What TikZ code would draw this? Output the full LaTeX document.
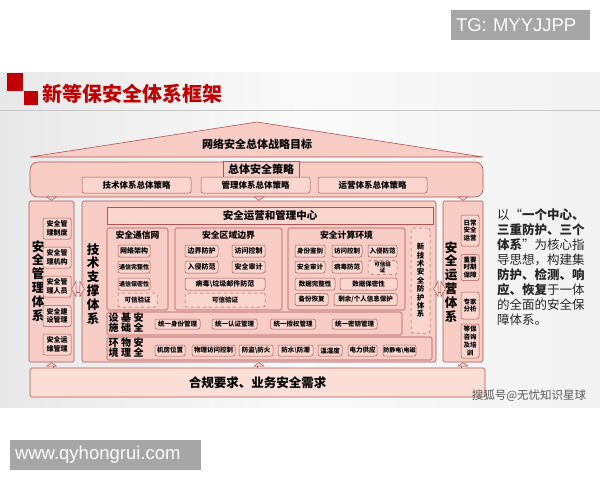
\documentclass[tikz,border=0pt]{standalone}
\usepackage{fontspec}
\setmainfont{Noto Sans CJK SC}
\newfontfamily\latinsans{Liberation Sans}
\usepackage{xcolor}
\usetikzlibrary{arrows.meta,positioning,shapes,calc}

\definecolor{boxfill}{RGB}{248,205,197}
\definecolor{itemfill}{RGB}{250,214,207}
\definecolor{basefill}{RGB}{251,222,214}
\definecolor{boxline}{RGB}{176,84,84}
\definecolor{titlered}{RGB}{192,0,0}
\definecolor{tagGray}{RGB}{166,166,166}

\begin{document}
\begin{tikzpicture}[x=1pt, y=-1pt,
    wh/.style 2 args={minimum width=#1pt, minimum height=#2pt},
    panel/.style={rectangle, rounded corners=1.5pt, draw=boxline, fill=boxfill, line width=0.6pt, inner sep=0pt},
    item/.style={rectangle, rounded corners=2pt, draw=boxline, fill=itemfill, line width=0.5pt, inner sep=0pt, align=center, font=\fontsize{7}{8.5}\selectfont\bfseries},
    ditem/.style={item, dashed},
    small/.style={font=\fontsize{6.5}{7.8}\selectfont\bfseries},
    tiny/.style={font=\fontsize{6}{7}\selectfont\bfseries},
    dtitle/.style={inner sep=0pt, font=\fontsize{8.8}{8.8}\selectfont\bfseries},
    vlabel/.style={inner sep=0pt, align=center, font=\fontsize{12.5}{13.9}\selectfont\bfseries},
    rowlabel/.style={inner sep=0pt, align=center, font=\fontsize{10}{10.2}\selectfont\bfseries},
    tag/.style={rectangle, fill=tagGray, text=white, inner xsep=5pt, inner ysep=0pt, align=left, minimum height=30pt, font=\latinsans\fontsize{18.5}{18.5}\selectfont},
    link/.style={draw=boxline, line width=0.5pt, double=itemfill, double distance=3pt, -{Triangle[length=4pt, width=11pt, fill=itemfill]}},
    dlink/.style={draw=boxline, line width=0.5pt, double=itemfill, double distance=6pt, {Triangle[length=5pt, width=17pt, fill=itemfill]}-{Triangle[length=5pt, width=17pt, fill=itemfill]}, shorten <=-3pt, shorten >=-3pt}
]
    \useasboundingbox (0,0) rectangle (600,480);

    % Slide background
    \shade[left color=black!9, right color=black!5, middle color=black!2] (0,72) rectangle (600,407);
    \draw[black!22, line width=0.8pt] (0,110) -- (600,110);

    % Tags
    \node[tag, text width=129pt] (tg) at (520.5,25) {TG: MYYJJPP};
    \node[tag, text width=181pt] (site) at (105.5,455) {www.qyhongrui.com};

    % Title
    \fill[titlered] (7,73) rectangle (23,91);
    \fill[titlered] (24,91) rectangle (38,105);
    \node[anchor=west, inner sep=0pt, text=titlered, font=\fontsize{20}{20}\selectfont\bfseries] (title) at (42,94) {新等保安全体系框架};

    % Roof and strategies
    \draw[boxline, fill=boxfill, line width=0.6pt] (30,157) -- (257,122) -- (483,157) -- cycle;
    \node[font=\fontsize{11}{11}\selectfont\bfseries] (goal) at (257,144) {网络安全总体战略目标};
    \node[panel, rounded corners=8pt, wh={453}{35}] (strat) at (256.5,179.5) {};
    \node[panel, rounded corners=0pt, wh={76}{16}, font=\fontsize{11}{11}\selectfont\bfseries] (overall) at (261,169) {总体安全策略};
    \node[item, wh={109}{16}, font=\fontsize{8.5}{8.5}\selectfont\bfseries] (techpol) at (136.5,185) {技术体系总体策略};
    \node[item, wh={109}{16}, font=\fontsize{8.5}{8.5}\selectfont\bfseries] (mgmtpol) at (255.5,185) {管理体系总体策略};
    \node[item, wh={109}{16}, font=\fontsize{8.5}{8.5}\selectfont\bfseries] (opspol) at (372.5,185) {运营体系总体策略};

    % Columns and base
    \node[panel, wh={45}{161}] (mgmt) at (51.5,281.5) {};
    \node[panel, wh={354}{161}] (tech) at (259,281.5) {};
    \node[panel, wh={40}{161}] (ops) at (463,281.5) {};
    \node[panel, fill=basefill, wh={455}{29}, font=\fontsize{12.5}{12.5}\selectfont\bfseries] (base) at (257.5,382.5) {合规要求、业务安全需求};

    % Links
    \draw[link] (strat.south -| mgmt) -- (mgmt.north);
    \draw[link] (strat.south -| tech) -- (tech.north);
    \draw[link] (strat.south -| ops) -- (ops.north);
    \draw[link] (base.north -| mgmt) -- (mgmt.south);
    \draw[link] (base.north -| tech) -- (tech.south);
    \draw[link] (base.north -| ops) -- (ops.south);
    \draw[dlink] ($(mgmt.east)+(0,7.5)$) -- ($(tech.west)+(0,7.5)$);
    \draw[dlink] ($(tech.east)+(0,7.5)$) -- ($(ops.west)+(0,7.5)$);

    % Management column
    \node[vlabel] (mgmtlabel) at (38,281) {安\\全\\管\\理\\体\\系};
    \node[item, wh={28}{21}] (mg1) at (57,228.5) {安全管\\理制度};
    \node[item, wh={28}{21}] (mg2) at (57,257.5) {安全管\\理机构};
    \node[item, wh={28}{21}] (mg3) at (57,286.5) {安全管\\理人员};
    \node[item, wh={28}{21}] (mg4) at (57,316) {安全建\\设管理};
    \node[item, wh={28}{21}] (mg5) at (57,344.5) {安全运\\维管理};

    % Operations column
    \node[vlabel] (opslabel) at (451,282) {安\\全\\运\\营\\体\\系};
    \node[item, wh={18}{31}, small] (op1) at (470,230.5) {日常\\安全\\运营};
    \node[item, wh={18}{26}, small] (op2) at (470,267.5) {重要\\时期\\保障};
    \node[item, wh={18}{27}, small] (op3) at (470,305.5) {专家\\分析};
    \node[item, wh={18}{34}, small] (op4) at (470,341) {等保\\咨询\\及培\\训};

    % Technical support
    \node[vlabel] (techlabel) at (93,284) {技\\术\\支\\撑\\体\\系};
    \node[panel, fill=itemfill, rounded corners=0pt, wh={326}{17}, font=\fontsize{10.5}{10.5}\selectfont\bfseries] (soc) at (270,215.5) {安全运营和管理中心};

    \node[panel, wh={61}{82}] (comm) at (137.5,269) {};
    \node[dtitle, below=3pt of comm.north] (commt) {安全通信网};
    \node[item, wh={32}{12}] (c1) at (134,251) {网络架构};
    \node[item, wh={32}{12}, tiny] (c2) at (134,267) {通信完整性};
    \node[item, wh={32}{12}, tiny] (c3) at (134,284) {通信保密性};
    \node[ditem, wh={39}{14}, small] (c4) at (137.5,300) {可信验证};

    \node[panel, wh={107}{82}] (zone) at (228.5,269) {};
    \node[dtitle, below=3pt of zone.north] (zonet) {安全区域边界};
    \node[item, wh={33}{12}] (z1) at (201.5,251) {边界防护};
    \node[item, wh={33}{12}] (z2) at (248.5,251) {访问控制};
    \node[item, wh={33}{12}] (z3) at (201.5,267) {入侵防范};
    \node[item, wh={33}{12}] (z4) at (248.5,267) {安全审计};
    \node[item, wh={80}{12}] (z5) at (225,284) {病毒\textbackslash 垃圾邮件防范};
    \node[ditem, wh={80}{14}, small] (z6) at (225,300) {可信验证};

    \node[panel, wh={117}{82}] (comp) at (346.5,269) {};
    \node[dtitle, below=3pt of comp.north] (compt) {安全计算环境};
    \node[item, wh={30}{12}, small] (p1) at (310,251) {身份鉴别};
    \node[item, wh={30}{12}, small] (p2) at (347,251) {访问控制};
    \node[item, wh={29}{12}, small] (p3) at (382.5,251) {入侵防范};
    \node[item, wh={30}{12}, small] (p4) at (310,267) {安全审计};
    \node[item, wh={30}{12}, small] (p5) at (347,267) {病毒防范};
    \node[ditem, wh={29}{14}, font=\fontsize{5.5}{6}\selectfont\bfseries] (p6) at (382.5,267.5) {可信验\\证};
    \node[item, wh={40}{12}, small] (p7) at (315,284) {数据完整性};
    \node[item, wh={57}{12}, small] (p8) at (368.5,284) {数据保密性};
    \node[item, wh={33}{12}, small] (p9) at (311.5,299.5) {备份恢复};
    \node[item, wh={63}{12}, small] (p10) at (365.5,299.5) {剩余/个人信息保护};

    \node[ditem, wh={19}{105}, font=\fontsize{7.5}{8.4}\selectfont\bfseries] (newtech) at (420.5,280.5) {新\\技\\术\\安\\全\\防\\护\\体\\系};

    % Infrastructure and environment rows
    \node[panel, wh={295}{23}] (infra) at (254.5,323.5) {};
    \node[rowlabel] (infralabel) at (126,322.5) {设\hspace{2.5pt}基\hspace{2.5pt}安\\施\hspace{2.5pt}础\hspace{2.5pt}全};
    \node[item, wh={45}{10}, small] (f1) at (177.5,324) {统一身份管理};
    \node[item, wh={45}{10}, small] (f2) at (234.5,324) {统一认证管理};
    \node[item, wh={45}{10}, small] (f3) at (293,324) {统一授权管理};
    \node[item, wh={45}{10}, small] (f4) at (354.5,324) {统一密钥管理};

    \node[panel, wh={325}{23}] (env) at (269.5,348.5) {};
    \node[rowlabel] (envlabel) at (126,348) {环\hspace{2.5pt}物\hspace{2.5pt}安\\境\hspace{2.5pt}理\hspace{2.5pt}全};
    \node[item, wh={30}{11}, small] (e1) at (170,350.5) {机房位置};
    \node[item, wh={43}{11}, small] (e2) at (213.5,350.5) {物理访问控制};
    \node[item, wh={34}{11}, small] (e3) at (256,350.5) {防盗\textbackslash 防火};
    \node[item, wh={35}{11}, small] (e4) at (295.5,350.5) {防水\textbackslash 防潮};
    \node[item, wh={24}{11}, small] (e5) at (330,350.5) {温湿度};
    \node[item, wh={29}{11}, small] (e6) at (362.5,350.5) {电力供应};
    \node[item, wh={33}{11}, tiny] (e7) at (399.5,350.5) {防静电\textbackslash 电磁};

    % Summary text and watermark
    \node[anchor=north west, align=left, inner sep=0pt, text=black!85, font=\fontsize{12.5}{15}\selectfont] (summary) at (497,208.5) {以“\textbf{一个中心、}\\\textbf{三重防护、三个}\\\textbf{体系}”为核心指\\导思想，构建集\\\textbf{防护、检测、响}\\\textbf{应、恢复}于一体\\的全面的安全保\\障体系。};
    \node[inner sep=0pt, text=black!65, font=\fontsize{11.5}{11.5}\selectfont] (mark) at (529,396) {搜狐号@无忧知识星球};
\end{tikzpicture}
\end{document}
